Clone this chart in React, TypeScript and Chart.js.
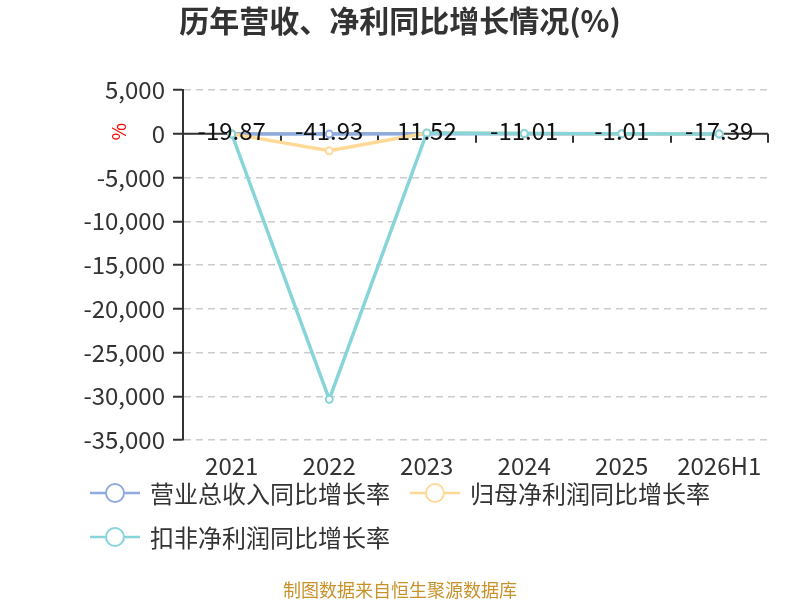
import React, { useEffect, useRef } from "react";
import { Chart, registerables } from "chart.js";

Chart.register(...registerables);

// ---- data ----
const categories = ["2021", "2022", "2023", "2024", "2025", "2026H1"];
const revenueGrowth = [-19.87, -41.93, 11.52, -11.01, -1.01, -17.39];
const netProfitGrowth = [-14.2, -1950, 96.5, 22.4, -8.6, -31.2];
const deductedProfitGrowth = [-27.3, -30350, 88.1, 16.9, -12.7, -40.5];
const seriesNames = ["营业总收入同比增长率", "归母净利润同比增长率", "扣非净利润同比增长率"];
const yMin = -35000;
const yMax = 5000;
const yStep = 5000;
const titleText = "历年营收、净利同比增长情况(%)";
const footerText = "制图数据来自恒生聚源数据库";
const yAxisName = "%";

const FONT = "'Noto Sans CJK SC', 'Noto Sans', sans-serif";
const COLORS = ["#8faadc", "#ffd996", "#87d4d9"];

const zeroAxisPlugin = {
  id: "zeroAxis",
  beforeDatasetsDraw(chart: any) {
    const { ctx, chartArea, scales } = chart;
    const x = scales.x;
    const y = scales.y;
    const y0 = y.getPixelForValue(0);
    const n = categories.length;
    const band = x.getPixelForValue(1) - x.getPixelForValue(0);
    ctx.save();
    ctx.strokeStyle = "#333";
    ctx.lineWidth = 2;
    ctx.beginPath();
    ctx.moveTo(chartArea.left, y0);
    ctx.lineTo(chartArea.right, y0);
    for (let i = 0; i < n; i++) {
      const tx = Math.round(x.getPixelForValue(i) + band / 2);
      ctx.moveTo(tx, y0);
      ctx.lineTo(tx, y0 + 9);
    }
    ctx.stroke();
    ctx.restore();
  },
};

const labelsPlugin = {
  id: "valueLabels",
  afterDatasetsDraw(chart: any) {
    const { ctx } = chart;
    const meta = chart.getDatasetMeta(0);
    ctx.save();
    ctx.font = `24px ${FONT}`;
    ctx.fillStyle = "#111";
    ctx.textAlign = "center";
    ctx.textBaseline = "middle";
    meta.data.forEach((pt: any, i: number) => {
      ctx.fillText(revenueGrowth[i].toFixed(2), pt.x, pt.y - 3);
    });
    ctx.restore();
  },
};

const extrasPlugin = {
  id: "extras",
  afterDraw(chart: any) {
    const { ctx, scales } = chart;
    const y0 = scales.y.getPixelForValue(0);
    ctx.save();
    // y axis name
    ctx.save();
    ctx.translate(119, y0 - 2);
    ctx.rotate(-Math.PI / 2);
    ctx.font = `19px ${FONT}`;
    ctx.fillStyle = "#ff0000";
    ctx.textAlign = "center";
    ctx.textBaseline = "middle";
    ctx.fillText(yAxisName, 0, 0);
    ctx.restore();

    // legend
    ctx.font = `24px ${FONT}`;
    ctx.textBaseline = "middle";
    ctx.textAlign = "left";
    let lx = 90;
    let ly = 493;
    chart.data.datasets.forEach((ds: any) => {
      const tw = ctx.measureText(ds.label).width;
      const w = 60 + tw;
      if (lx + w > 770 && lx > 90) {
        lx = 90;
        ly += 44;
      }
      ctx.strokeStyle = ds.borderColor;
      ctx.lineWidth = 2.5;
      ctx.beginPath();
      ctx.moveTo(lx, ly);
      ctx.lineTo(lx + 50, ly);
      ctx.stroke();
      ctx.beginPath();
      ctx.arc(lx + 25, ly, 9, 0, Math.PI * 2);
      ctx.fillStyle = "#fff";
      ctx.fill();
      ctx.lineWidth = 2;
      ctx.stroke();
      ctx.fillStyle = "#333";
      ctx.fillText(ds.label, lx + 60, ly + 1);
      lx += w + 20;
    });

    // footer
    ctx.font = `18px ${FONT}`;
    ctx.fillStyle = "#c8922a";
    ctx.textAlign = "center";
    ctx.fillText(footerText, chart.width / 2, 590);
    ctx.restore();
  },
};

export default function App() {
  const ref = useRef<HTMLCanvasElement | null>(null);

  useEffect(() => {
    if (!ref.current) return;
    const seriesData = [revenueGrowth, netProfitGrowth, deductedProfitGrowth];
    const chart = new Chart(ref.current, {
      type: "line",
      data: {
        labels: categories,
        datasets: seriesData.map((d, i) => ({
          label: seriesNames[i],
          data: d,
          borderColor: COLORS[i],
          backgroundColor: "#fff",
          borderWidth: 3.5,
          pointRadius: 3.5,
          pointBorderWidth: 2,
          pointBackgroundColor: "#fff",
          pointBorderColor: COLORS[i],
          tension: 0,
          order: 3 - i,
        })),
      },
      options: {
        responsive: false,
        animation: false,
        layout: { padding: { left: 32, right: 32, top: 0, bottom: 0 } },
        plugins: {
          legend: { display: false },
          tooltip: { enabled: false },
          title: {
            display: true,
            text: titleText,
            color: "#333",
            font: { size: 30, weight: "bold", family: FONT },
            padding: { top: 3, bottom: 51 },
          },
        },
        scales: {
          x: {
            type: "category",
            offset: true,
            grid: { display: false, drawTicks: false },
            border: { display: false },
            ticks: {
              color: "#333",
              font: { size: 24, family: FONT },
              padding: 11,
              autoSkip: false,
              maxRotation: 0,
            },
            afterFit: (s: any) => {
              s.height = 160;
            },
          },
          y: {
            min: yMin,
            max: yMax,
            grid: {
              color: "#cccccc",
              lineWidth: 1.5,
              tickLength: 10,
              tickColor: "#333",
              tickWidth: 2,
              tickBorderDash: [],
              borderDash: [7, 5],
            } as any,
            border: { display: true, color: "#333", width: 2, dash: [7, 5] } as any,
            ticks: {
              stepSize: yStep,
              color: "#333",
              font: { size: 24, family: FONT },
              padding: 8,
              callback: (v: any) => Number(v).toLocaleString("en-US"),
            },
            afterFit: (s: any) => {
              s.width = 151;
            },
          },
        },
      },
      plugins: [zeroAxisPlugin, labelsPlugin, extrasPlugin],
    });
    return () => chart.destroy();
  }, []);

  return (
    <div style={{ position: "absolute", left: 0, top: 0, width: 800, height: 600, background: "#fff" }}>
      <canvas ref={ref} width={800} height={600} />
    </div>
  );
}
